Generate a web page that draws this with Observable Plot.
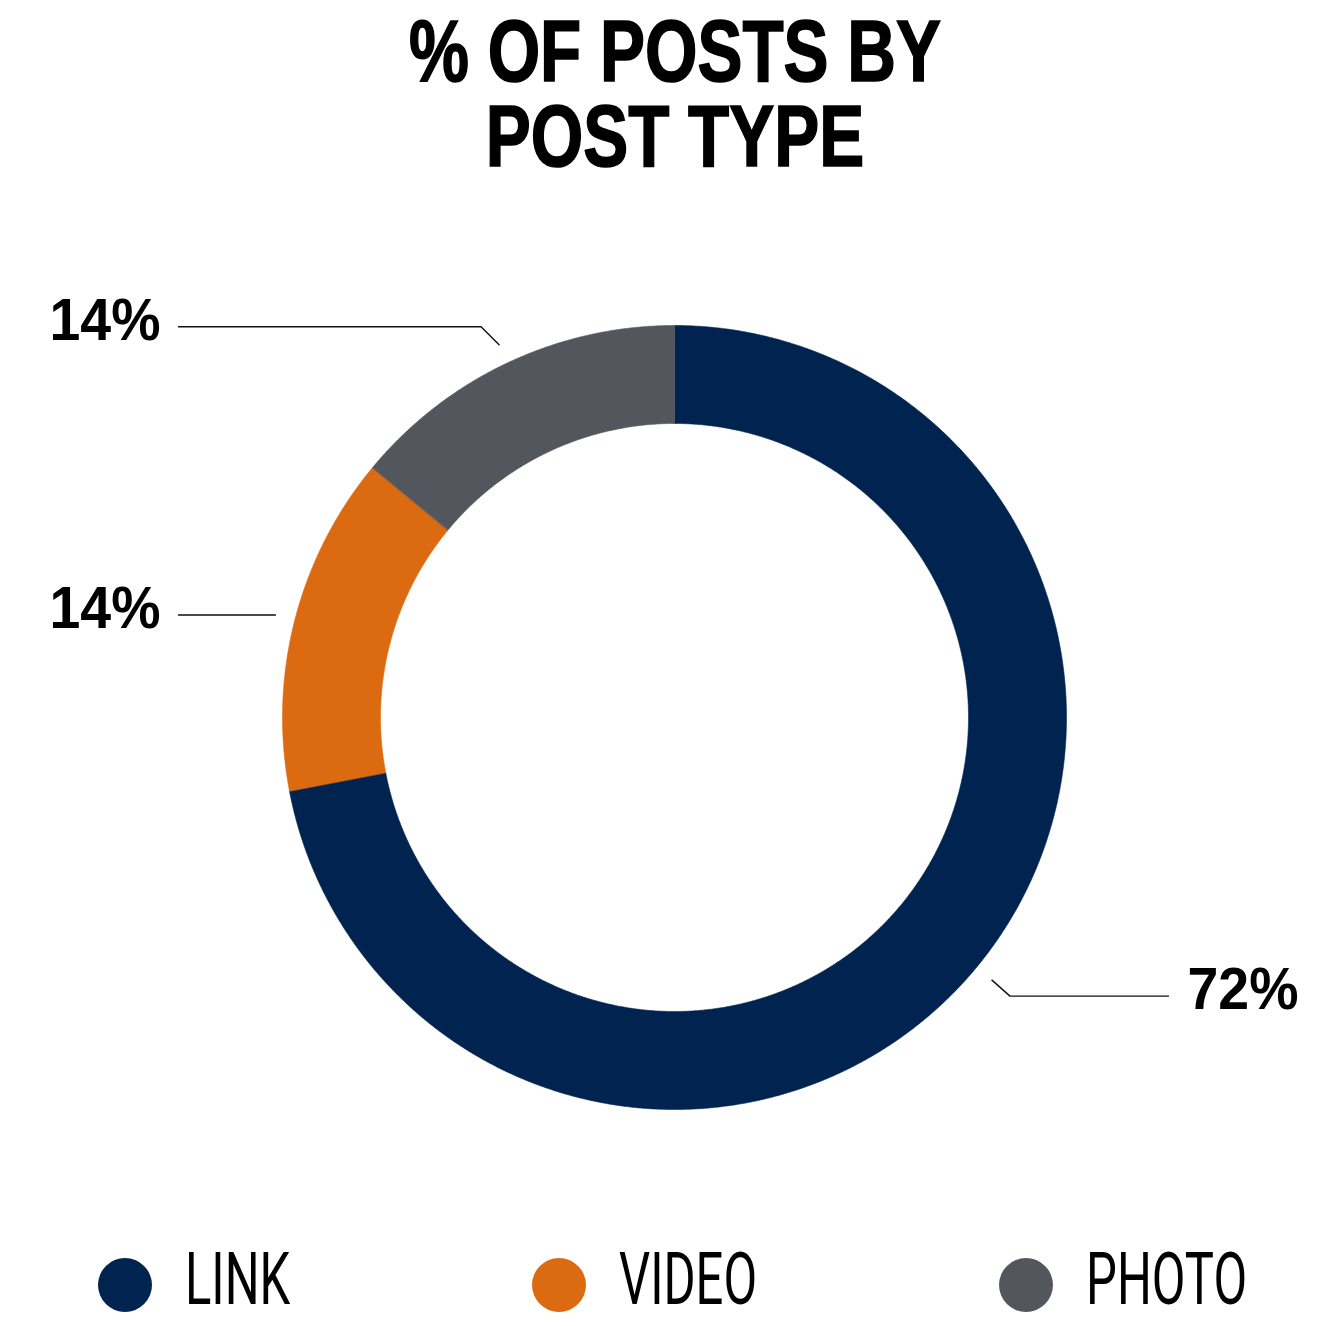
<!DOCTYPE html>
<html>
<head>
<meta charset="utf-8">
<script src="https://cdn.jsdelivr.net/npm/d3@7"></script>
<script src="https://cdn.jsdelivr.net/npm/@observablehq/plot@0.6"></script>
<style>
  html, body { margin: 0; padding: 0; background: #fff; overflow: hidden; width: 1334px; height: 1326px; }
  #titlewrap { height: 177px; overflow: visible; }
  #title {
    font-family: "Liberation Sans", Arial, sans-serif;
    font-weight: bold; font-size: 87px; line-height: 85px; text-align: center;
    white-space: pre-line;
    padding: 8px 0 0 16px; margin: 0; color: #000;
    -webkit-text-stroke: 1.6px #000;
    transform: scaleX(0.775); transform-origin: 675px 0;
  }
  #chart { display: block; height: 1063px; }
  #legend {
    display: flex; justify-content: space-between; align-items: center;
    height: 90px; padding: 0 87px 0 98px;
    font-family: Roboto, "Liberation Sans", Arial, sans-serif; font-weight: 400;
    font-size: 72px; line-height: 72px; color: #000;
  }
  .item { display: flex; align-items: center; }
  .dot { width: 54px; height: 54px; border-radius: 50%; margin-right: 33px; }
  .lab { position: relative; top: -5px; display: inline-block; transform: scaleX(0.68); transform-origin: 0 0; }
</style>
</head>
<body>
<div id="titlewrap"><div id="title">% OF POSTS BY
POST TYPE</div></div>
<div id="chart"></div>
<div id="legend"></div>
<script>
// ---- data ----
const categories = ["LINK", "VIDEO", "PHOTO"];
const values = [72, 14, 14];
const valueLabels = ["72%", "14%", "14%"];
const colors = ["#002350", "#dc6a11", "#53575d"];

// ---- layout ----
const W = 1334, H = 1063;
const cx = 674, cy = 540, R = 392, r = 294;
const total = d3.sum(values);

// slice angles, clockwise from 12 o'clock
let acc = 0;
const slices = categories.map((cat, i) => {
  const a0 = acc / total * 2 * Math.PI;
  acc += values[i];
  const a1 = acc / total * 2 * Math.PI;
  return {cat, a0, a1, mid: (a0 + a1) / 2, label: valueLabels[i]};
});
const pt = (a, rho) => ({x: cx + rho * Math.sin(a), y: cy - rho * Math.cos(a)});

// ring polygons
const ringPts = [];
for (const s of slices) {
  const n = Math.max(2, Math.ceil((s.a1 - s.a0) / Math.PI * 720));
  for (let k = 0; k <= n; k++) ringPts.push({cat: s.cat, ...pt(s.a0 + (s.a1 - s.a0) * k / n, R)});
  for (let k = n; k >= 0; k--) ringPts.push({cat: s.cat, ...pt(s.a0 + (s.a1 - s.a0) * k / n, r)});
}

// leader lines
const leaderPts = [];
const textPts = [];
for (const s of slices) {
  const a = pt(s.mid, R + 20);
  const right = Math.sin(s.mid) > 0;
  const up = Math.cos(s.mid) > 0;
  const horizontal = Math.abs(Math.cos(s.mid)) < 0.3;
  const e = horizontal ? a : {x: a.x + (right ? 18 : -18), y: a.y + (up ? -18 : 16)};
  const endX = right ? 1168 : 178;
  leaderPts.push({cat: s.cat, ...a}, {cat: s.cat, ...e}, {cat: s.cat, x: endX, y: e.y});
  textPts.push({label: s.label, right, x: right ? endX + 19 : endX - 18, y: e.y});
}

const font = "'Liberation Sans', Arial, sans-serif";
const chart = Plot.plot({
  width: W, height: H, margin: 0,
  x: {domain: [0, W], range: [0, W], axis: null},
  y: {domain: [0, H], range: [0, H], axis: null},
  color: {domain: categories, range: colors},
  style: {background: "transparent", overflow: "visible"},
  marks: [
    Plot.line(ringPts, {x: "x", y: "y", z: "cat", fill: "cat", stroke: "cat", strokeWidth: 0.6, curve: "linear-closed"}),
    Plot.line(leaderPts, {x: "x", y: "y", z: "cat", stroke: "#111", strokeWidth: 1.4}),
    Plot.text(textPts.filter(d => !d.right), {x: "x", y: "y", text: "label", textAnchor: "end", dy: -6, fontSize: 59, fontWeight: "bold", fontFamily: font, fill: "#000"}),
    Plot.text(textPts.filter(d => d.right), {x: "x", y: "y", text: "label", textAnchor: "start", dy: -6, fontSize: 59, fontWeight: "bold", fontFamily: font, fill: "#000"})
  ]
});
// condense the value labels horizontally (no narrow font is installed)
d3.select(chart).selectAll("text").each(function() {
  const t = this.getAttribute("transform") || "";
  this.setAttribute("transform", t + " scale(0.94,1)");
});
document.getElementById("chart").appendChild(chart);

// legend
const legend = document.getElementById("legend");
const labs = [];
categories.forEach((c, i) => {
  const item = document.createElement("div");
  item.className = "item";
  const dot = document.createElement("div");
  dot.className = "dot";
  dot.style.background = colors[i];
  const lab = document.createElement("span");
  lab.className = "lab";
  lab.textContent = c;
  item.append(dot, lab);
  legend.appendChild(item);
  labs.push(lab);
});
// shrink layout width of scaled labels so spacing follows the visual width
labs.forEach(lab => {
  const w = lab.offsetWidth;
  lab.style.marginRight = (-0.32 * w) + "px";
});
</script>
</body>
</html>
